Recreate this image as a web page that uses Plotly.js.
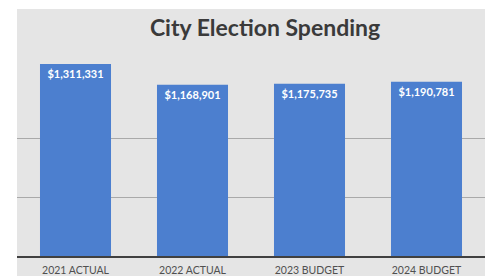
<!DOCTYPE html>
<html>
<head>
<meta charset="utf-8">
<script src="https://cdn.plot.ly/plotly-3.0.1.min.js"></script>
<style>html,body{margin:0;padding:0;background:#fff;}#chart{width:496px;height:276px;}</style>
</head>
<body>
<div id="chart"></div>
<script>
const categories = ["2021 ACTUAL", "2022 ACTUAL", "2023 BUDGET", "2024 BUDGET"];
const spending = [1311331, 1168901, 1175735, 1190781];
const gridValues = [0, 400000, 800000];

const trace = {
  type: "bar",
  x: categories,
  y: spending,
  marker: { color: "#4c7fcf" },
  texttemplate: "$%{y:,}",
  textposition: "inside",
  insidetextanchor: "end",
  textangle: 0,
  textfont: { family: "Lato, sans-serif", size: 11, color: "#ffffff", weight: "bold" },
  hoverinfo: "none"
};

const layout = {
  width: 496,
  height: 276,
  margin: { l: 17, r: 11, t: 51, b: 20, pad: 0 },
  paper_bgcolor: "#ffffff",
  plot_bgcolor: "rgba(0,0,0,0)",
  bargap: 0.393,
  showlegend: false,
  title: {
    text: "<b>City Election Spending</b>",
    font: { family: "Lato, sans-serif", size: 23, color: "#3a3a3a" },
    x: 0.53, xref: "paper", xanchor: "center",
    y: 0.9, yref: "container", yanchor: "middle"
  },
  xaxis: {
    showline: true, linecolor: "#404040", linewidth: 2,
    showgrid: false, ticks: "",
    ticklabelstandoff: 3,
    tickfont: { family: "Lato, sans-serif", size: 10.5, color: "#505050" },
    fixedrange: true
  },
  yaxis: {
    range: [0, 1400000],
    tickvals: gridValues,
    showticklabels: false,
    showgrid: true, gridcolor: "#a9a9a9", gridwidth: 1,
    zeroline: false, ticks: "",
    fixedrange: true
  },
  shapes: [{
    type: "rect", xref: "paper", yref: "paper", layer: "below",
    x0: 0, x1: 1, y0: -0.2, y1: 1.205,
    fillcolor: "#e5e5e5", line: { width: 0 }
  }]
};

Plotly.newPlot("chart", [trace], layout, { displayModeBar: false, staticPlot: true });
</script>
</body>
</html>
